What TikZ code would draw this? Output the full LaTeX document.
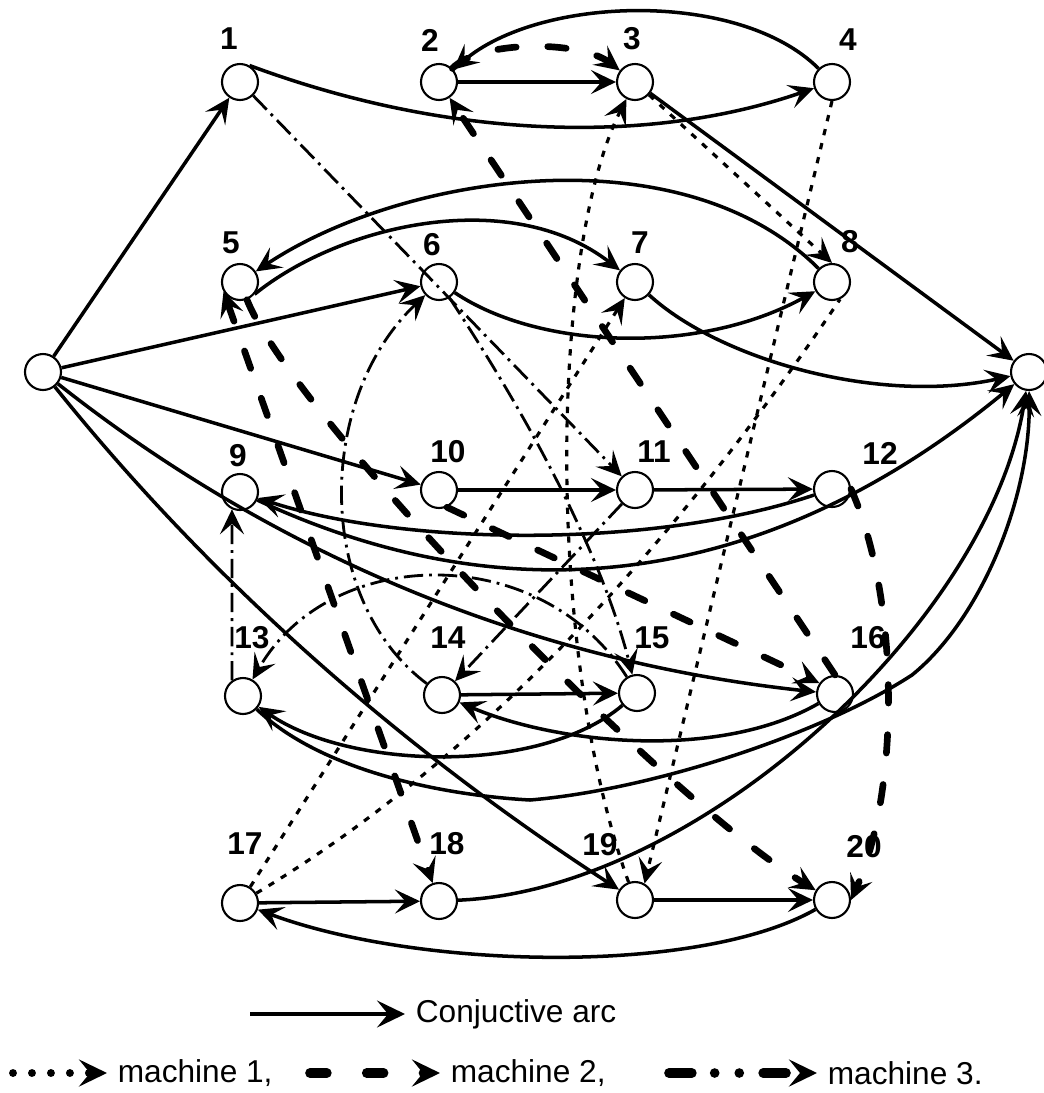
\documentclass[tikz,border=0pt]{standalone}
\usepackage{fontspec}
\setmainfont{Liberation Sans}
\usetikzlibrary{arrows.meta}

\begin{document}
\begin{tikzpicture}[
          x=0.02cm, y=-0.02cm,
          font=\fontsize{18}{22}\selectfont,
          op/.style={circle, draw, line width=1.2pt, fill=white,
                     minimum size=0.72cm, inner sep=0pt},
          lbl/.style={font=\fontsize{18}{22}\selectfont\bfseries, inner sep=0pt},
          barb/.style={-{Stealth[length=5mm, width=4.8mm, inset=2.1mm]}},
          bigbarb/.style={-{Stealth[length=5.6mm, width=5.4mm, inset=2.2mm]}},
          conj/.style={barb, line width=2pt},
          mach1/.style={barb, line width=1.8pt, dash pattern=on 3.6pt off 4.6pt},
          mach2/.style={barb, line width=3.8pt, line cap=round,
                        dash pattern=on 10.5pt off 18pt},
          mach3/.style={barb, line width=1.6pt,
                        dash pattern=on 11pt off 3.4pt on 1.6pt off 3.4pt},
          legtext/.style={anchor=west, inner xsep=6pt, inner ysep=0pt}
        ]
        \useasboundingbox (0,0) rectangle (1044,1093);

        \node[op] (s) at (43,372) {};
        \node[op] (t) at (1029,372) {};
        \foreach \n/\x/\y/\lx/\ly in {1/240/82/229/39, 2/439/82/430/40, 3/635/82/632/39,
            4/832/82/848/40, 5/240/282/231/243, 6/439/282/432/245, 7/635/282/640/243,
            8/832/282/850/242, 9/240/492/238/456, 10/439/490/448/452, 11/635/490/654/452,
            12/832/489/880/453, 13/243/696/252/638, 14/442/695/448/638, 15/637/693/652/638,
            16/835/694/868/638, 17/240/903/245/844, 18/439/901/447/844, 19/635/900/600/845,
            20/832/900/864/847} {
          \node[op] (n\n) at (\x,\y) {};
          \node[lbl] (l\n) at (\lx,\ly) {\n};
        }
        \coordinate (k1) at (530,800);
        \coordinate (k2) at (912,675);

        % conjunctive arcs
        \draw[conj] (s) -- (n1);
        \draw[conj] (s) -- (n6);
        \draw[conj] (s) -- (n10);
        \draw[conj] (s) .. controls (281,560) and (538,662) .. (n16);
        \draw[conj] (s) .. controls (209,579) and (399,747) .. (n19);
        \draw[conj] (n1.60) .. controls (450,140) and (650,145) .. (n4);
        \draw[conj] (n4) .. controls (740,-10) and (540,-5) .. (n2);
        \draw[conj] (n2) -- (n3);
        \draw[conj] (n3) -- (t);
        \draw[conj] (n8) .. controls (680,130) and (400,175) .. (n5);
        \draw[conj] (n5.-40) .. controls (340,225) and (510,185) .. (n7);
        \draw[conj] (n6) .. controls (540,350) and (700,355) .. (n8);
        \draw[conj] (n7) .. controls (720,360) and (880,405) .. (t);
        \draw[conj] (n10) -- (n11);
        \draw[conj] (n11) -- (n12);
        \draw[conj] (n12) .. controls (650,550) and (400,545) .. (n9);
        \draw[conj] (n9) .. controls (519,622) and (773,583) .. (t);
        \draw[conj] (n14) -- (n15);
        \draw[conj] (n15) .. controls (540,775) and (350,770) .. (n13);
        \draw[conj] (n16) .. controls (720,760) and (560,745) .. (n14);
        \draw[conj] (n13) .. controls (320,770) and (440,795) .. (k1)
                          .. controls (650,790) and (820,735) .. (k2)
                          .. controls (980,620) and (1030,500) .. (t);
        \draw[conj] (n17) -- (n18);
        \draw[conj] (n18) .. controls (700,890) and (990,620) .. (t);
        \draw[conj] (n19) -- (n20);
        \draw[conj] (n20) .. controls (700,975) and (420,970) .. (n17);

        % machine 1
        \draw[mach1] (n3) -- (n8.north);
        \draw[mach1] (n4.south) -- (n19.60);
        \draw[mach1] (n19) .. controls (545,650) and (550,250) .. (n3);
        \draw[mach1] (n17) -- (n7);
        \draw[mach1, -] (n17) .. controls (462,770) and (656,572) .. (n8.-65);

        % machine 2
        \draw[mach2] (n2) .. controls (480,40) and (580,40) .. (n3);
        \draw[mach2] (n16.north) -- (n2);
        \draw[mach2] (n10.-65) -- (n16.145);
        \draw[mach2] (n5) .. controls (292,414) and (662,798) .. (n20);
        \draw[mach2, {Stealth[length=5mm, width=4.8mm, inset=2.1mm]}-{Stealth[length=5mm, width=4.8mm, inset=2.1mm]}]
          (n5.-150) -- (n18);
        \draw[mach2] (n12.east) .. controls (900,600) and (900,790) .. (n20.east);

        % machine 3
        \draw[mach3] (n1) -- (n11);
        \draw[mach3] (n6) .. controls (546,444) and (606,571) .. (n15);
        \draw[mach3] (n14) .. controls (315,600) and (315,400) .. (n6);
        \draw[mach3] (n11) -- (n14);
        \draw[mach3] (n13.125) -- (n9.-115);
        \draw[mach3] (n15) .. controls (540,540) and (330,545) .. (n13);

        % legend
        \coordinate (c0) at (250,1014);
        \node[legtext] (t0) at (405,1014) {Conjuctive arc};
        \draw[line width=2pt, bigbarb] (c0) -- (t0);
        \coordinate (c1) at (13,1073);
        \node[legtext] (t1) at (107,1073) {machine 1,};
        \draw[bigbarb, line width=4.5pt, line cap=round, dash pattern=on 0pt off 10.8pt] (c1) -- (t1);
        \coordinate (c2) at (310,1073);
        \node[legtext] (t2) at (440,1073) {machine 2,};
        \draw[bigbarb, line width=5.5pt, line cap=round, dash pattern=on 9.6pt off 22.7pt] (c2) -- (t2);
        \coordinate (c3) at (669,1073);
        \node[legtext] (t3) at (817,1073) {machine 3.};
        \draw[bigbarb, line width=5.5pt, line cap=round,
              dash pattern=on 13pt off 13pt on 0pt off 14pt on 0pt off 13.6pt] (c3) -- (t3);
      \end{tikzpicture}
\end{document}
